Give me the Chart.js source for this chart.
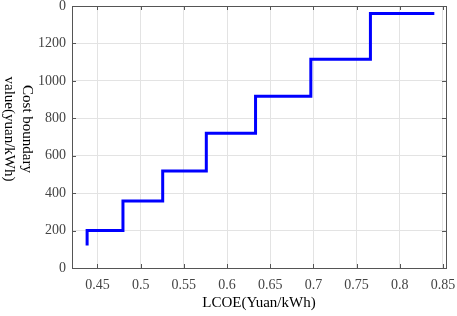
<!DOCTYPE html>
<html>
<head>
<meta charset="utf-8">
<script src="https://cdn.jsdelivr.net/npm/chart.js@4/dist/chart.umd.min.js"></script>
<style>
  html, body { margin: 0; padding: 0; background: #fff; }
  #wrap { width: 457px; height: 316px; position: relative; }
</style>
</head>
<body>
<div id="wrap"><canvas id="stepChart"></canvas></div>
<script>
// step corners (LCOE -> cost boundary)
const lcoe = [0.438, 0.438, 0.4795, 0.5255, 0.576, 0.633, 0.697, 0.766, 0.840];
const costBoundary = [120, 200, 358, 518, 720, 918, 1115, 1360, 1360];

const xTicks = [0.45, 0.5, 0.55, 0.6, 0.65, 0.7, 0.75, 0.8, 0.85];
const yTicks = [0, 200, 400, 600, 800, 1000, 1200, 1400];
const yTickLabels = ['0', '200', '400', '600', '800', '1000', '1200', '0'];

const axisGray = '#555555';
const gridGray = '#e3e3e3';
const serif = "'Liberation Serif', 'Times New Roman', serif";

// box round the plot with small inward ticks, like the original
const boxPlugin = {
    id: 'box',
    afterDatasetsDraw(chart) {
        const { ctx, chartArea: a, scales } = chart;
        ctx.save();
        ctx.strokeStyle = axisGray;
        ctx.lineWidth = 1;
        ctx.strokeRect(a.left + 0.5, a.top + 0.5, a.right - a.left, a.bottom - a.top);
        ctx.beginPath();
        xTicks.forEach(v => {
            const px = Math.round(scales.x.getPixelForValue(v)) + 0.5;
            ctx.moveTo(px, a.bottom); ctx.lineTo(px, a.bottom - 4);
            ctx.moveTo(px, a.top); ctx.lineTo(px, a.top + 4);
        });
        yTicks.forEach(v => {
            const py = Math.round(scales.y.getPixelForValue(v)) + 0.5;
            ctx.moveTo(a.left, py); ctx.lineTo(a.left + 4, py);
            ctx.moveTo(a.right, py); ctx.lineTo(a.right - 4, py);
        });
        ctx.stroke();

        // two-line y title
        ctx.fillStyle = '#000';
        ctx.font = '15px ' + serif;
        ctx.textAlign = 'center';
        ctx.textBaseline = 'middle';
        const cy = (a.top + a.bottom) / 2 - 8;
        ctx.translate(0, cy);
        ctx.rotate(Math.PI / 2);
        ctx.fillText('Cost boundary', 0, -27);
        ctx.fillText('value(yuan/kWh)', 0, -9);
        ctx.restore();
    }
};

new Chart(document.getElementById('stepChart').getContext('2d'), {
    type: 'line',
    data: {
        datasets: [{
            data: lcoe.map((x, i) => ({ x: x, y: costBoundary[i] })),
            borderColor: '#0000ff',
            borderWidth: 3,
            stepped: 'before',
            pointRadius: 0,
            fill: false
        }]
    },
    options: {
        responsive: true,
        maintainAspectRatio: false,
        animation: false,
        layout: { padding: { top: 6, right: 11, left: 0, bottom: 0 } },
        plugins: {
            legend: { display: false },
            tooltip: { enabled: false }
        },
        scales: {
            x: {
                type: 'linear',
                min: 0.4205,
                max: 0.8535,
                afterBuildTicks: s => { s.ticks = xTicks.map(v => ({ value: v })); },
                afterFit: s => { s.height = 48; s.paddingRight = 0; s.paddingLeft = 0; },
                grid: { color: gridGray, drawTicks: false },
                border: { display: false },
                ticks: {
                    padding: 9,
                    color: '#444',
                    font: { family: serif, size: 14 },
                    callback: v => String(v)
                },
                title: {
                    display: true,
                    text: 'LCOE(Yuan/kWh)',
                    color: '#000',
                    font: { family: serif, size: 15 },
                    padding: { top: 2, bottom: 4 }
                }
            },
            y: {
                min: 0,
                max: 1400,
                afterBuildTicks: s => { s.ticks = yTicks.map(v => ({ value: v })); },
                afterFit: s => { s.width = 72; s.paddingTop = 0; s.paddingBottom = 0; },
                grid: { color: gridGray, drawTicks: false },
                border: { display: false },
                ticks: {
                    padding: 6,
                    color: '#444',
                    font: { family: serif, size: 14 },
                    callback: (v, i) => yTickLabels[i]
                }
            }
        }
    },
    plugins: [boxPlugin]
});
</script>
</body>
</html>
